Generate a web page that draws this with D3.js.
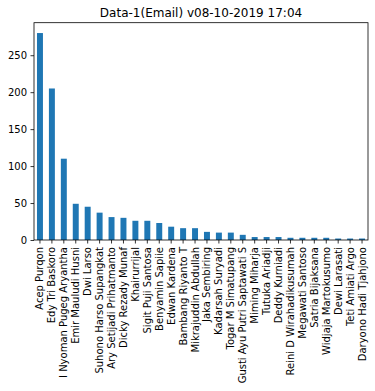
<!DOCTYPE html>
<html>
<head>
<meta charset="utf-8">
<script src="https://cdn.jsdelivr.net/npm/d3@7"></script>
<style>
  body { margin: 0; background: #fff; }
  text { font-family: "DejaVu Sans", sans-serif; fill: #000; }
</style>
</head>
<body>
<div id="chart"></div>
<script>
// data
const names = ["Acep Purqon", "Edy Tri Baskoro", "I Nyoman Pugeg Aryantha", "Emir Mauludi Husni",
  "Dwi Larso", "Suhono Harso Supangkat", "Ary Setijadi Prihatmanto", "Dicky Rezady Munaf",
  "Khairurrijal", "Sigit Puji Santosa", "Benyamin Sapiie", "Edwan Kardena", "Bambang Riyanto T",
  "Mikrajuddin Abdullah", "Jaka Sembiring", "Kadarsah Suryadi", "Togar M Simatupang",
  "Gusti Ayu Putri Saptawati S", "Miming Miharja", "Tutuka Ariadji", "Deddy Kurniadi",
  "Reini D Wirahadikusumah", "Megawati Santoso", "Satria Bijaksana", "Widjaja Martokusumo",
  "Dewi Larasati", "Teti Amiati Argo", "Daryono Hadi Tjahjono"];
const counts = [280, 205, 110, 49, 45, 37, 31, 30, 26, 26, 23, 18, 16, 16, 11, 10, 10, 7,
  4, 4, 4, 3, 3, 3, 3, 2, 2, 2];
const yTicks = [0, 50, 100, 150, 200, 250];
const title = "Data-1(Email) v08-10-2019 17:04";

const width = 375, height = 391;
const margin = {top: 22.7, right: 7, bottom: 151, left: 34};
const innerW = width - margin.left - margin.right;
const innerH = height - margin.top - margin.bottom;

const svg = d3.select("#chart").append("svg")
    .attr("width", width)
    .attr("height", height);

const g = svg.append("g")
    .attr("transform", `translate(${margin.left}, ${margin.top})`);

// x scale: one band per person, bar takes half the band
const x = d3.scaleBand()
    .domain(names)
    .range([0, innerW])
    .paddingInner(0.5)
    .paddingOuter(0.25);

// y scale with matplotlib style 5% headroom
const y = d3.scaleLinear()
    .domain([0, d3.max(counts) * 1.05])
    .range([innerH, 0]);

g.selectAll("rect.bar")
    .data(names)
    .enter()
    .append("rect")
    .attr("class", "bar")
    .attr("x", d => x(d))
    .attr("y", (d, i) => y(counts[i]))
    .attr("width", x.bandwidth())
    .attr("height", (d, i) => innerH - y(counts[i]))
    .attr("fill", "#1f77b4");

// axes
const yAxis = g.append("g")
    .call(d3.axisLeft(y).tickValues(yTicks).tickSize(3.5).tickPadding(3.5));
yAxis.select(".domain").remove();
yAxis.selectAll("text").style("font-size", "10px").attr("fill", "#000");
yAxis.selectAll("line").attr("stroke", "#000").attr("stroke-width", 0.8);

const xAxis = g.append("g")
    .attr("transform", `translate(0, ${innerH})`)
    .call(d3.axisBottom(x).tickSize(3.5).tickPadding(3.5));
xAxis.select(".domain").remove();
xAxis.selectAll("line").attr("stroke", "#000").attr("stroke-width", 0.8);
xAxis.selectAll("text")
    .style("font-size", "10px")
    .attr("fill", "#000")
    .attr("text-anchor", "end")
    .attr("dy", "0.35em")
    .attr("x", 0)
    .attr("y", 0)
    .attr("transform", "translate(0, 7) rotate(-90)");

// frame
g.append("rect")
    .attr("width", innerW)
    .attr("height", innerH)
    .attr("fill", "none")
    .attr("stroke", "#000")
    .attr("stroke-width", 0.8);

// title
svg.append("text")
    .attr("x", margin.left + innerW / 2)
    .attr("y", margin.top - 6)
    .attr("text-anchor", "middle")
    .style("font-size", "12px")
    .text(title);
</script>
</body>
</html>
